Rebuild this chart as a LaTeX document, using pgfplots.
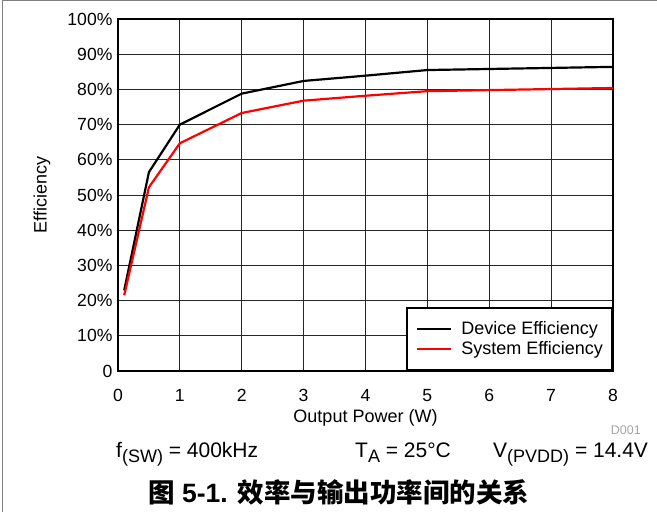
\documentclass[border=0pt]{standalone}
\usepackage{pgfplots}
\pgfplotsset{compat=1.18}
\usepackage{fontspec}
\setmainfont{Liberation Sans}
\newfontfamily\cjk{Noto Sans CJK SC}
\newcommand{\sub}[1]{\raisebox{-5pt}{\fontsize{18}{20}\selectfont #1}}
\begin{document}
\begin{tikzpicture}[x=1pt,y=1pt]
\path[use as bounding box] (0,0) rectangle (657,512);
\draw[black!50, line width=1pt] (2,0) -- (2,511.5) -- (657,511.5);
\begin{axis}[
  at={(118pt,141pt)}, anchor=south west,
  width=495pt, height=352pt, scale only axis,
  xmin=0, xmax=8, ymin=0, ymax=100,
  xtick={0,1,...,8}, ytick={0,10,...,100},
  yticklabels={0,10\%,20\%,30\%,40\%,50\%,60\%,70\%,80\%,90\%,100\%},
  grid=major, major grid style={black!85, line width=0.8pt},
  major tick length=0pt,
  axis line style={line width=2pt},
  /pgf/number format/assume math mode=true,
  tick label style={font=\fontsize{17.6}{20}\selectfont},
  xticklabel style={anchor=center, yshift=-24.8pt},
  yticklabel style={xshift=-2pt},
  label style={font=\fontsize{18}{21}\selectfont},
  xlabel={Output Power (W)},
  xlabel style={at={(axis description cs:0.5,-0.1335)}, anchor=center},
  ylabel={Efficiency},
  ylabel style={at={(axis description cs:-0.1535,0.5)}, anchor=center, rotate=0},
  legend style={at={(1,0)}, anchor=south east, draw=black, line width=2pt, fill=white,
    font=\fontsize{18}{21}\selectfont, inner xsep=9pt, inner ysep=11pt, row sep=0.3pt,
    nodes={inner sep=0pt, text height=15.7pt, text depth=4pt},
    /tikz/every odd column/.append style={column sep=9pt}},
  legend cell align=left,
  legend image code/.code={\draw[#1] (0pt,0pt) -- (34pt,0pt);},
]
\addplot[black, line width=2.2pt] coordinates {
  (0.1,22.9) (0.5,56.5) (1,70) (2,78.8) (3,82.4) (4,83.9) (5,85.5) (6,85.8) (7,86.1) (8,86.4)};
\addlegendentry{Device Efficiency}
\addplot[red, line width=2.2pt] coordinates {
  (0.1,21.5) (0.5,52.2) (1,64.7) (2,73.3) (3,76.8) (4,78.2) (5,79.5) (6,79.8) (7,80.1) (8,80.4)};
\addlegendentry{System Efficiency}
\end{axis}
\node[anchor=base east, text=black!35, font=\fontsize{12.5}{14}\selectfont, inner sep=0pt] at (641,77) {D001};
\node[anchor=base west, inner sep=0pt, font=\fontsize{21}{24}\selectfont] at (116,54) {f\sub{(SW)} = 400kHz};
\node[anchor=base west, inner sep=0pt, font=\fontsize{21}{24}\selectfont] at (355,54) {T\sub{A} = 25°C};
\node[anchor=base west, inner sep=0pt, font=\fontsize{21}{24}\selectfont] at (493,54) {V\sub{(PVDD)} = 14.4V};
\node[anchor=base west, inner sep=0pt, font=\fontsize{26.5}{30}\selectfont\bfseries] at (148,9.7) {{\cjk 图} 5-1. {\cjk 效率与输出功率间的关系}};
\end{tikzpicture}
\end{document}
